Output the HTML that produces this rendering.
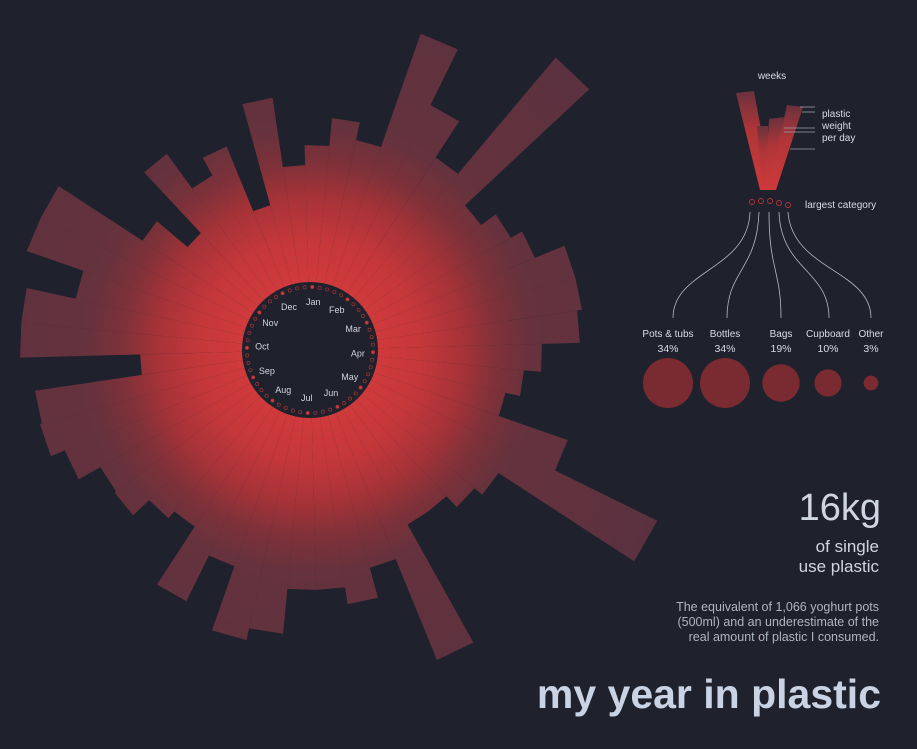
<!DOCTYPE html>
<html><head><meta charset="utf-8"><style>
html,body{margin:0;padding:0;background:#1f212c;}
svg{display:block;font-family:"Liberation Sans",sans-serif;}
</style></head><body>
<svg id="chart" width="917" height="749" viewBox="0 0 917 749">
<defs>
<radialGradient id="rg" gradientUnits="userSpaceOnUse" cx="310" cy="350" r="400">
<stop offset="0.17" stop-color="#d03a3c"/>
<stop offset="0.28" stop-color="#c4373a"/>
<stop offset="0.38" stop-color="#a73338"/>
<stop offset="0.47" stop-color="#7e3139"/>
<stop offset="0.56" stop-color="#65323d"/>
<stop offset="1" stop-color="#5a3140"/>
</radialGradient>
<linearGradient id="lg" x1="0" y1="1" x2="0" y2="0">
<stop offset="0" stop-color="#cf393b"/><stop offset="0.6" stop-color="#b03538"/><stop offset="1" stop-color="#6a323d"/>
</linearGradient>
</defs>
<rect x="0" y="0" width="917" height="749" fill="#1f212c"/>
<g id="bars"></g>
<g id="hub"></g>

<g>
<text x="772" y="79" fill="#d8dce6" font-size="10" text-anchor="middle">weeks</text>
<polygon points="736,93 754,91 772,190 760,190" fill="url(#lg)"/>
<polygon points="757,126 768,126 770,190 762,190" fill="url(#lg)"/>
<polygon points="769,119 784,117 772,190 765,190" fill="url(#lg)"/>
<polygon points="787,105 803,107 776,190 768,190" fill="url(#lg)"/>
<g stroke="#9aa0ad" stroke-width="0.8">
<line x1="800" y1="107" x2="815" y2="107"/><line x1="802" y1="112" x2="815" y2="112"/>
<line x1="784" y1="128" x2="815" y2="128"/><line x1="784" y1="132" x2="815" y2="132"/>
<line x1="790" y1="149" x2="815" y2="149"/>
</g>
<text x="822" y="117" fill="#d8dce6" font-size="10">plastic</text>
<text x="822" y="129" fill="#d8dce6" font-size="10">weight</text>
<text x="822" y="141" fill="#d8dce6" font-size="10">per day</text>
<g fill="none" stroke="#b8353a" stroke-width="0.9">
<circle cx="752" cy="202" r="2.5"/><circle cx="761" cy="201" r="2.5"/><circle cx="770" cy="201" r="2.5"/><circle cx="779" cy="203" r="2.5"/><circle cx="788" cy="205" r="2.5"/>
</g>
<text x="805" y="208" fill="#d8dce6" font-size="10">largest category</text>
<g fill="none" stroke="#b5bac4" stroke-width="0.8">
<path d="M750,212 C748,270 673,270 673,318"/>
<path d="M759,212 C757,270 727,270 727,318"/>
<path d="M769,212 C769,270 781,270 781,318"/>
<path d="M779,212 C781,270 829,270 829,318"/>
<path d="M788,212 C792,270 871,270 871,318"/>
</g>
</g>
<g id="cats"></g>

<g fill="#cfd6e2" text-anchor="end">
<text x="881" y="520" font-size="38">16kg</text>
<text x="879" y="552" font-size="17">of single</text>
<text x="879" y="572" font-size="17">use plastic</text>
<g fill="#aeb5c1" font-size="12.5">
<text x="879" y="611">The equivalent of 1,066 yoghurt pots</text>
<text x="879" y="626">(500ml) and an underestimate of the</text>
<text x="879" y="641">real amount of plastic I consumed.</text>
</g>
<text x="881" y="708" font-size="41" font-weight="bold" fill="#c9d3e3">my year in plastic</text>
</g>
</svg>
<script>
const weekValues = [137,165,147,267,205,162,314,144,162,175,207,207,202,164,147,132,205,319,157,147,132,132,267,158,189,172,172,217,229,161,212,143,152,174,172,197,212,210,102,222,222,172,232,232,132,92,175,132,152,82,187,117];
const monthLabels = ["Jan","Feb","Mar","Apr","May","Jun","Jul","Aug","Sep","Oct","Nov","Dec"];
const categoryNames = ["Pots & tubs","Bottles","Bags","Cupboard","Other"];
const categoryShares = [34,34,19,10,3];

const NS="http://www.w3.org/2000/svg";
const CX=310, CY=350, R0=68;
const step=360/weekValues.length, offset=-1.5;
function rScale(v){return R0+v;}
function pt(a,r){const t=a*Math.PI/180;return [CX+r*Math.sin(t), CY-r*Math.cos(t)];}
const bars=document.getElementById('bars');
weekValues.forEach((v,i)=>{
  const a0=i*step+offset, a1=(i+1)*step+offset, r=rScale(v);
  const p=[pt(a0,R0-2),pt(a0,r),pt(a1,r),pt(a1,R0-2)];
  const el=document.createElementNS(NS,'polygon');
  el.setAttribute('points',p.map(q=>q[0].toFixed(1)+','+q[1].toFixed(1)).join(' '));
  el.setAttribute('fill','url(#rg)');
  
  
  bars.appendChild(el);
});
const hub=document.getElementById('hub');
const c=document.createElementNS(NS,'circle');
c.setAttribute('cx',CX);c.setAttribute('cy',CY);c.setAttribute('r',R0);c.setAttribute('fill','#1f212c');


hub.appendChild(c);
weekValues.forEach((v,i)=>{
  const a=i*step+step/2+offset; const q=pt(a,63);
  const d=document.createElementNS(NS,'circle');
  d.setAttribute('cx',q[0].toFixed(1));d.setAttribute('cy',q[1].toFixed(1));d.setAttribute('r',1.6);
  const first = Math.floor(i*12/52)!==Math.floor((i-1)*12/52);
  d.setAttribute('fill',first?'#d23c3e':'none');d.setAttribute('stroke','#a33237');d.setAttribute('stroke-width','0.7');
  
  
  hub.appendChild(d);
});
monthLabels.forEach((m,i)=>{
  const q=pt(i*30+4,48);
  const t=document.createElementNS(NS,'text');
  t.setAttribute('x',q[0].toFixed(1));t.setAttribute('y',(q[1]+3).toFixed(1));
  t.setAttribute('fill','#cfd4de');t.setAttribute('font-size','9');t.setAttribute('text-anchor','middle');
  t.textContent=m;
  
  
  hub.appendChild(t);
});
const cats=document.getElementById('cats');
const catX=[668,725,781,828,871];
categoryNames.forEach((n,i)=>{
  const r=Math.sqrt(categoryShares[i]/34)*25;
  const ci=document.createElementNS(NS,'circle');
  ci.setAttribute('cx',catX[i]);ci.setAttribute('cy',383);ci.setAttribute('r',r.toFixed(1));ci.setAttribute('fill','#7a2a31');
  
  
  cats.appendChild(ci);
  const t1=document.createElementNS(NS,'text');
  t1.setAttribute('x',catX[i]);t1.setAttribute('y',337);t1.setAttribute('fill','#d8dce6');t1.setAttribute('font-size','10');t1.setAttribute('text-anchor','middle');
  t1.textContent=n;
  
  
  cats.appendChild(t1);
  const t2=document.createElementNS(NS,'text');
  t2.setAttribute('x',catX[i]);t2.setAttribute('y',352);t2.setAttribute('fill','#d8dce6');t2.setAttribute('font-size','10.5');t2.setAttribute('text-anchor','middle');
  t2.textContent=categoryShares[i]+'%';
  
  
  cats.appendChild(t2);
});
</script>
</body></html>
